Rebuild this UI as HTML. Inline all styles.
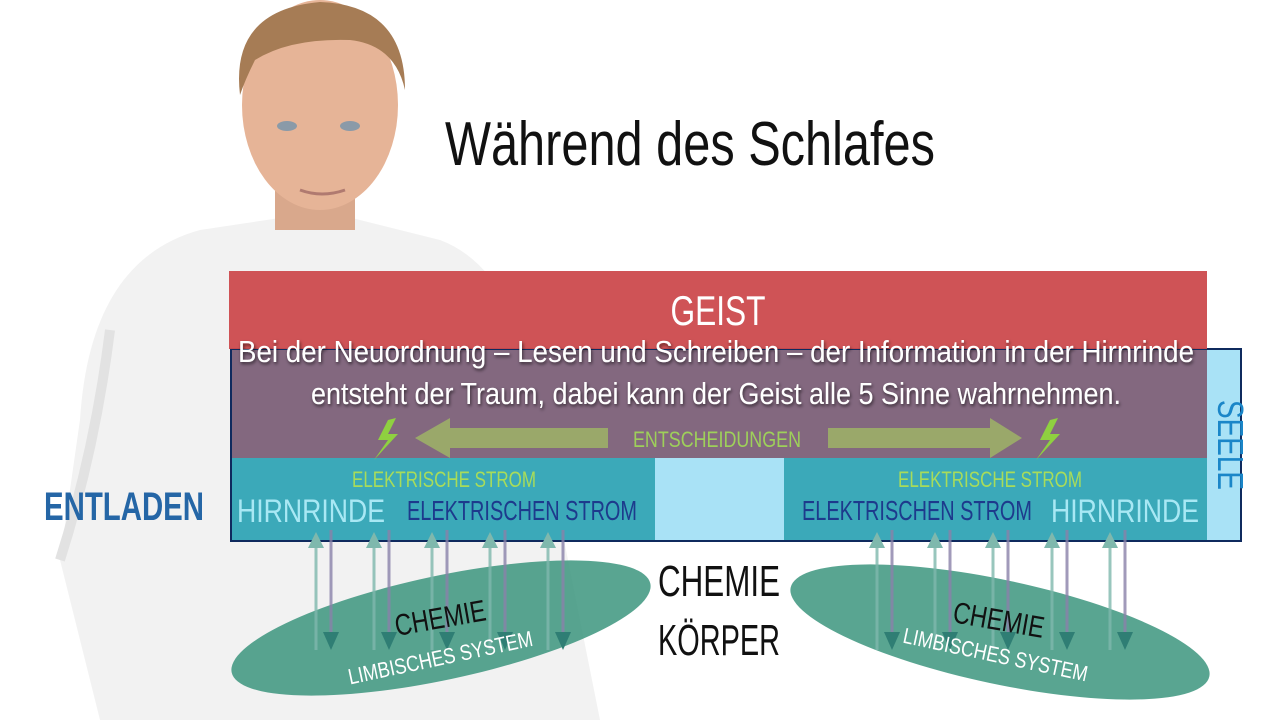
<!DOCTYPE html>
<html><head><meta charset="utf-8"><style>
html,body{margin:0;padding:0;background:#fff;width:1280px;height:720px;overflow:hidden}
svg text{font-family:"Liberation Sans Narrow","Liberation Sans",sans-serif}
</style></head><body>
<svg width="1280" height="720" viewBox="0 0 1280 720" xmlns="http://www.w3.org/2000/svg">
<defs>
<filter id="sh" x="-10%" y="-10%" width="120%" height="140%"><feDropShadow dx="1" dy="2" stdDeviation="1.5" flood-color="#000" flood-opacity="0.6"/></filter>
</defs>
<!-- person -->
<path d="M100,720 L60,560 L80,420 Q90,260 200,230 L300,215 L340,215 L440,240 Q520,270 540,420 L600,720z" fill="#f2f2f2"/>
<path d="M110,330 Q95,450 60,560" stroke="#e2e2e2" stroke-width="10" fill="none"/>
<rect x="275" y="170" width="80" height="60" fill="#d9a88c"/>
<ellipse cx="320" cy="105" rx="78" ry="105" fill="#e6b497"/>
<path d="M240,95 Q230,10 320,2 Q405,5 405,90 Q395,45 350,40 Q290,38 255,60 Q245,80 240,95z" fill="#a67c55"/>
<ellipse cx="287" cy="126" rx="10" ry="5" fill="#8a9aa8"/>
<ellipse cx="350" cy="126" rx="10" ry="5" fill="#8a9aa8"/>
<path d="M300,190 Q322,198 345,190" stroke="#b07a70" stroke-width="3" fill="none"/>
<!-- title -->
<text x="690" y="165" font-size="62" text-anchor="middle" fill="#111" textLength="490" lengthAdjust="spacingAndGlyphs">Während des Schlafes</text>
<!-- seele box -->
<rect x="231" y="349" width="1010" height="192" fill="#a9e2f6" stroke="#0f2a5e" stroke-width="2"/>
<rect x="229" y="271" width="978" height="78" fill="#cc4a4d" opacity="0.95"/>
<rect x="232" y="350" width="975" height="108" fill="#83687f"/>
<rect x="232" y="458" width="423" height="82" fill="#3ba9b9"/>
<rect x="784" y="458" width="423" height="82" fill="#3ba9b9"/>
<text x="718" y="325" font-size="42" text-anchor="middle" fill="#fff" textLength="95" lengthAdjust="spacingAndGlyphs">GEIST</text>
<g filter="url(#sh)" fill="#fff" font-size="31" text-anchor="middle">
<text x="716" y="362" textLength="956" lengthAdjust="spacingAndGlyphs">Bei der Neuordnung – Lesen und Schreiben – der Information in der Hirnrinde</text>
<text x="716" y="404" textLength="810" lengthAdjust="spacingAndGlyphs">entsteht der Traum, dabei kann der Geist alle 5 Sinne wahrnehmen.</text>
</g>
<!-- arrows -->
<path d="M608,428 L450,428 L450,418 L415,438 L450,458 L450,448 L608,448z" fill="#9aa86a"/>
<path d="M828,428 L990,428 L990,418 L1022,438 L990,458 L990,448 L828,448z" fill="#9aa86a"/>
<path d="M388,420 L378,440 L388,440 L374,460 L398,434 L388,434 L396,418z" fill="#8fd040"/>
<path d="M1050,420 L1040,440 L1050,440 L1036,460 L1060,434 L1050,434 L1058,418z" fill="#8fd040"/>
<text x="717" y="447" font-size="22" text-anchor="middle" fill="#9ed05a" textLength="168" lengthAdjust="spacingAndGlyphs">ENTSCHEIDUNGEN</text>
<text x="444" y="487" font-size="22" text-anchor="middle" fill="#a8dc5a" textLength="184" lengthAdjust="spacingAndGlyphs">ELEKTRISCHE STROM</text>
<text x="990" y="487" font-size="22" text-anchor="middle" fill="#a8dc5a" textLength="184" lengthAdjust="spacingAndGlyphs">ELEKTRISCHE STROM</text>
<text x="311" y="522" font-size="32" text-anchor="middle" fill="#a8e8f4" textLength="148" lengthAdjust="spacingAndGlyphs">HIRNRINDE</text>
<text x="1125" y="522" font-size="32" text-anchor="middle" fill="#a8e8f4" textLength="148" lengthAdjust="spacingAndGlyphs">HIRNRINDE</text>
<text x="522" y="520" font-size="28" text-anchor="middle" fill="#1d3a8c" textLength="230" lengthAdjust="spacingAndGlyphs">ELEKTRISCHEN STROM</text>
<text x="917" y="520" font-size="28" text-anchor="middle" fill="#1d3a8c" textLength="230" lengthAdjust="spacingAndGlyphs">ELEKTRISCHEN STROM</text>
<text x="124" y="520" font-size="40" font-weight="bold" text-anchor="middle" fill="#2566a6" textLength="160" lengthAdjust="spacingAndGlyphs">ENTLADEN</text>
<text transform="translate(1218,445) rotate(90)" font-size="36" text-anchor="middle" fill="#1a86c8" textLength="90" lengthAdjust="spacingAndGlyphs">SEELE</text>
<!-- ellipses -->
<ellipse cx="441" cy="628" rx="214" ry="52" transform="rotate(-12 441 628)" fill="#2f8f76" opacity="0.8"/>
<ellipse cx="1000" cy="632" rx="214" ry="52" transform="rotate(12 1000 632)" fill="#2f8f76" opacity="0.8"/>
<!-- vertical arrows -->
<g stroke-width="3" opacity="0.8">
<g stroke="#7fb8ad"><line x1="316" y1="650" x2="316" y2="545"/><line x1="374" y1="650" x2="374" y2="545"/><line x1="432" y1="650" x2="432" y2="545"/><line x1="490" y1="650" x2="490" y2="545"/><line x1="548" y1="650" x2="548" y2="545"/>
<line x1="877" y1="650" x2="877" y2="545"/><line x1="935" y1="650" x2="935" y2="545"/><line x1="993" y1="650" x2="993" y2="545"/><line x1="1052" y1="650" x2="1052" y2="545"/><line x1="1110" y1="650" x2="1110" y2="545"/></g>
<g stroke="#8a82aa"><line x1="331" y1="530" x2="331" y2="640"/><line x1="389" y1="530" x2="389" y2="640"/><line x1="447" y1="530" x2="447" y2="640"/><line x1="505" y1="530" x2="505" y2="640"/><line x1="563" y1="530" x2="563" y2="640"/>
<line x1="892" y1="530" x2="892" y2="640"/><line x1="950" y1="530" x2="950" y2="640"/><line x1="1008" y1="530" x2="1008" y2="640"/><line x1="1067" y1="530" x2="1067" y2="640"/><line x1="1125" y1="530" x2="1125" y2="640"/></g>
</g>
<g fill="#7fb8ad"><path d="M308,548 L316,532 L324,548z"/><path d="M366,548 L374,532 L382,548z"/><path d="M424,548 L432,532 L440,548z"/><path d="M482,548 L490,532 L498,548z"/><path d="M540,548 L548,532 L556,548z"/>
<path d="M869,548 L877,532 L885,548z"/><path d="M927,548 L935,532 L943,548z"/><path d="M985,548 L993,532 L1001,548z"/><path d="M1044,548 L1052,532 L1060,548z"/><path d="M1102,548 L1110,532 L1118,548z"/></g>
<g fill="#2f7e74"><path d="M323,632 L331,650 L339,632z"/><path d="M381,632 L389,650 L397,632z"/><path d="M439,632 L447,650 L455,632z"/><path d="M497,632 L505,650 L513,632z"/><path d="M555,632 L563,650 L571,632z"/>
<path d="M884,632 L892,650 L900,632z"/><path d="M942,632 L950,650 L958,632z"/><path d="M1000,632 L1008,650 L1016,632z"/><path d="M1059,632 L1067,650 L1075,632z"/><path d="M1117,632 L1125,650 L1133,632z"/></g>
<text transform="translate(442,628) rotate(-10)" font-size="30" text-anchor="middle" fill="#111" textLength="92" lengthAdjust="spacingAndGlyphs">CHEMIE</text>
<text transform="translate(442,665) rotate(-12)" font-size="22" text-anchor="middle" fill="#fff" textLength="188" lengthAdjust="spacingAndGlyphs">LIMBISCHES SYSTEM</text>
<text transform="translate(997,630) rotate(10)" font-size="30" text-anchor="middle" fill="#111" textLength="92" lengthAdjust="spacingAndGlyphs">CHEMIE</text>
<text transform="translate(994,662) rotate(12)" font-size="22" text-anchor="middle" fill="#fff" textLength="188" lengthAdjust="spacingAndGlyphs">LIMBISCHES SYSTEM</text>
<text x="719" y="596" font-size="44" text-anchor="middle" fill="#111" textLength="122" lengthAdjust="spacingAndGlyphs">CHEMIE</text>
<text x="719" y="655" font-size="44" text-anchor="middle" fill="#111" textLength="122" lengthAdjust="spacingAndGlyphs">KÖRPER</text>
</svg>
</body></html>
